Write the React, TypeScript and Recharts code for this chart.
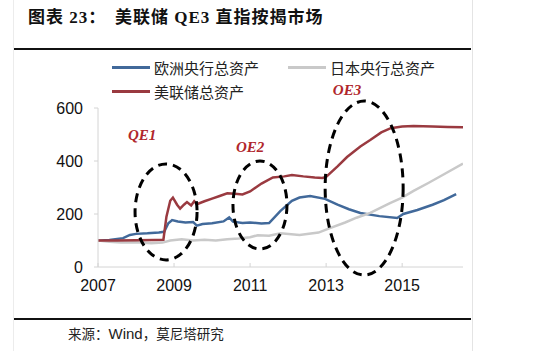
import { LineChart, Line, XAxis, YAxis, Legend, ReferenceDot } from "recharts";

// ECB total assets (index, 2007 = 100)
const ecbYears = [2007.0, 2007.3, 2007.66, 2007.84, 2008.0, 2008.3, 2008.6, 2008.74, 2008.85, 2008.95, 2009.1, 2009.3, 2009.5, 2009.6, 2009.75, 2010.0, 2010.3, 2010.45, 2010.55, 2010.8, 2011.0, 2011.3, 2011.5, 2011.8, 2012.1, 2012.3, 2012.58, 2012.97, 2013.3, 2013.6, 2013.9, 2014.4, 2014.87, 2015.03, 2015.4, 2015.8, 2016.1, 2016.42];
const ecbValues = [100, 102, 109, 121, 125, 127, 130, 133, 165, 177, 172, 168, 170, 156, 162, 165, 172, 187, 171, 166, 168, 164, 166, 212, 250, 262, 268, 257, 235, 218, 204, 192, 185, 200, 215, 235, 252, 275];

// BoJ total assets
const bojYears = [2007.0, 2007.3, 2007.6, 2008.0, 2008.4, 2008.7, 2008.9, 2009.2, 2009.5, 2009.8, 2010.1, 2010.4, 2010.7, 2011.0, 2011.2, 2011.5, 2011.8, 2012.3, 2012.8, 2013.1, 2013.5, 2013.8, 2014.16, 2014.68, 2015.0, 2015.3, 2015.7, 2016.1, 2016.6];
const bojValues = [100, 95, 92, 93, 90, 92, 100, 105, 100, 103, 100, 105, 108, 112, 120, 118, 127, 121, 130, 147, 168, 186, 204, 241, 262, 287, 318, 350, 390];

// Fed total assets
const fedYears = [2007.0, 2007.5, 2008.0, 2008.5, 2008.72, 2008.8, 2008.9, 2008.97, 2009.08, 2009.16, 2009.26, 2009.34, 2009.45, 2009.53, 2009.6, 2009.8, 2010.0, 2010.2, 2010.4, 2010.6, 2010.8, 2011.0, 2011.3, 2011.6, 2011.9, 2012.1, 2012.4, 2012.7, 2012.9, 2013.0, 2013.3, 2013.55, 2013.9, 2014.16, 2014.45, 2014.7, 2015.0, 2015.3, 2015.8, 2016.2, 2016.6];
const fedValues = [100, 100, 101, 102, 103, 190, 250, 262, 235, 220, 235, 245, 232, 248, 237, 248, 258, 268, 278, 276, 274, 285, 315, 338, 342, 347, 342, 338, 336, 340, 380, 415, 455, 479, 508, 524, 530, 532, 530, 528, 527];

const seriesNames = ["欧洲央行总资产", "日本央行总资产", "美联储总资产"];

const xTicks = [2007, 2009, 2011, 2013, 2015];
const yTicks = [0, 200, 400, 600];

// QE windows
const qeRounds = [
  { year: 2008.79, value: 208, rx: 31, ry: 48, labelYear: 2008.16, labelValue: 498, label: "QE1" },
  { year: 2011.26, value: 234, rx: 27, ry: 44, labelYear: 2011.0, labelValue: 453, label: "OE2" },
  { year: 2014.0, value: 298, rx: 39, ry: 87, labelYear: 2013.55, labelValue: 668, label: "OE3" },
];

const toSeries = (years: number[], values: number[]) =>
  years.map((year, i) => ({ year, value: values[i] }));

const ecb = toSeries(ecbYears, ecbValues);
const boj = toSeries(bojYears, bojValues);
const fed = toSeries(fedYears, fedValues);

const CJK = '"Noto Sans CJK SC", "Liberation Sans", sans-serif';
const tickStyle = { fill: "#111", fontSize: 16, fontFamily: '"Liberation Sans", sans-serif' };

function renderLegend({ payload }: any) {
  const items = [...(payload || [])].sort(
    (a: any, b: any) => seriesNames.indexOf(a.value) - seriesNames.indexOf(b.value)
  );
  return (
    <div style={{ display: "grid", gridTemplateColumns: "176px 176px", rowGap: 0 }}>
      {items.map((p: any) => (
        <div key={p.value} style={{ display: "flex", alignItems: "center", height: 24 }}>
          <span style={{ display: "inline-block", width: 38, height: 3, background: p.color, marginRight: 4 }} />
          <span style={{ fontFamily: CJK, fontSize: 15, color: "#222" }}>{p.value}</span>
        </div>
      ))}
    </div>
  );
}

export default function App() {
  return (
    <div style={{ position: "absolute", left: 0, top: 0, width: 554, height: 351, background: "#fff", overflow: "hidden" }}>
      <div style={{ position: "absolute", left: 13, top: 0, width: 458, height: 351, borderLeft: "1px solid #ececec", borderRight: "1px solid #e4e4e4" }} />
      <div style={{ position: "absolute", left: 28, top: 8, fontSize: 17, lineHeight: "20px", fontWeight: "bold", letterSpacing: 1, fontFamily: '"Liberation Serif", "Noto Sans CJK SC", serif', color: "#111", whiteSpace: "nowrap" }}>
        图表 23：
      </div>
      <div style={{ position: "absolute", left: 115, top: 8, fontSize: 17, lineHeight: "20px", fontWeight: "bold", letterSpacing: 1, fontFamily: '"Liberation Serif", "Noto Sans CJK SC", serif', color: "#111", whiteSpace: "nowrap" }}>
        美联储 QE3 直指按揭市场
      </div>
      <div style={{ position: "absolute", left: 14, top: 48, width: 457, height: 2, background: "#111" }} />
      <div style={{ position: "absolute", left: 14, top: 318, width: 457, height: 2, background: "#111" }} />
      <div style={{ position: "absolute", left: 68, top: 324, fontSize: 13.5, lineHeight: "18px", fontFamily: CJK, color: "#222", whiteSpace: "nowrap" }}>
        来源：<span style={{ fontFamily: '"Liberation Sans", sans-serif', fontSize: 15 }}>Wind</span>，莫尼塔研究
      </div>
      <div style={{ position: "absolute", left: 0, top: 0 }}>
        <LineChart width={554} height={351} margin={{ top: 108, right: 91, bottom: 54, left: 58 }}>
          <XAxis
            dataKey="year"
            type="number"
            domain={[2007, 2016.6]}
            ticks={xTicks}
            allowDataOverflow
            stroke="#d4d4d4"
            tickSize={-4}
            tickMargin={17}
            height={30}
            tick={tickStyle}
          />
          <YAxis
            domain={[0, 600]}
            ticks={yTicks}
            stroke="#d4d4d4"
            tickSize={4}
            tickMargin={11}
            width={40}
            tick={tickStyle}
          />
          <Legend
            content={renderLegend}
            layout="horizontal"
            verticalAlign="middle"
            align="center"
            wrapperStyle={{ top: 55, left: 112, width: 360 }}
          />
          <Line data={ecb} dataKey="value" name={seriesNames[0]} stroke="#41699a" strokeWidth={2.5} dot={false} isAnimationActive={false} />
          <Line data={boj} dataKey="value" name={seriesNames[1]} stroke="#c9c9c9" strokeWidth={2.5} dot={false} isAnimationActive={false} />
          <Line data={fed} dataKey="value" name={seriesNames[2]} stroke="#9a3a40" strokeWidth={2.5} dot={false} isAnimationActive={false} />
          {qeRounds.map((q) => (
            <ReferenceDot
              key={q.label + "-ring"}
              x={q.year}
              y={q.value}
              r={0}
              ifOverflow="visible"
              shape={(p: any) => (
                <ellipse cx={p.cx} cy={p.cy} rx={q.rx} ry={q.ry} fill="none" stroke="#000" strokeWidth={3} strokeDasharray="9 6" />
              )}
            />
          ))}
          {qeRounds.map((q) => (
            <ReferenceDot
              key={q.label + "-text"}
              x={q.labelYear}
              y={q.labelValue}
              r={0}
              ifOverflow="visible"
              shape={(p: any) => (
                <text x={p.cx} y={p.cy} dy="0.35em" textAnchor="middle" fill="#b0262c" fontSize={15} fontWeight="bold" fontStyle="italic" fontFamily='"Liberation Serif", serif'>
                  {q.label}
                </text>
              )}
            />
          ))}
        </LineChart>
      </div>
    </div>
  );
}
